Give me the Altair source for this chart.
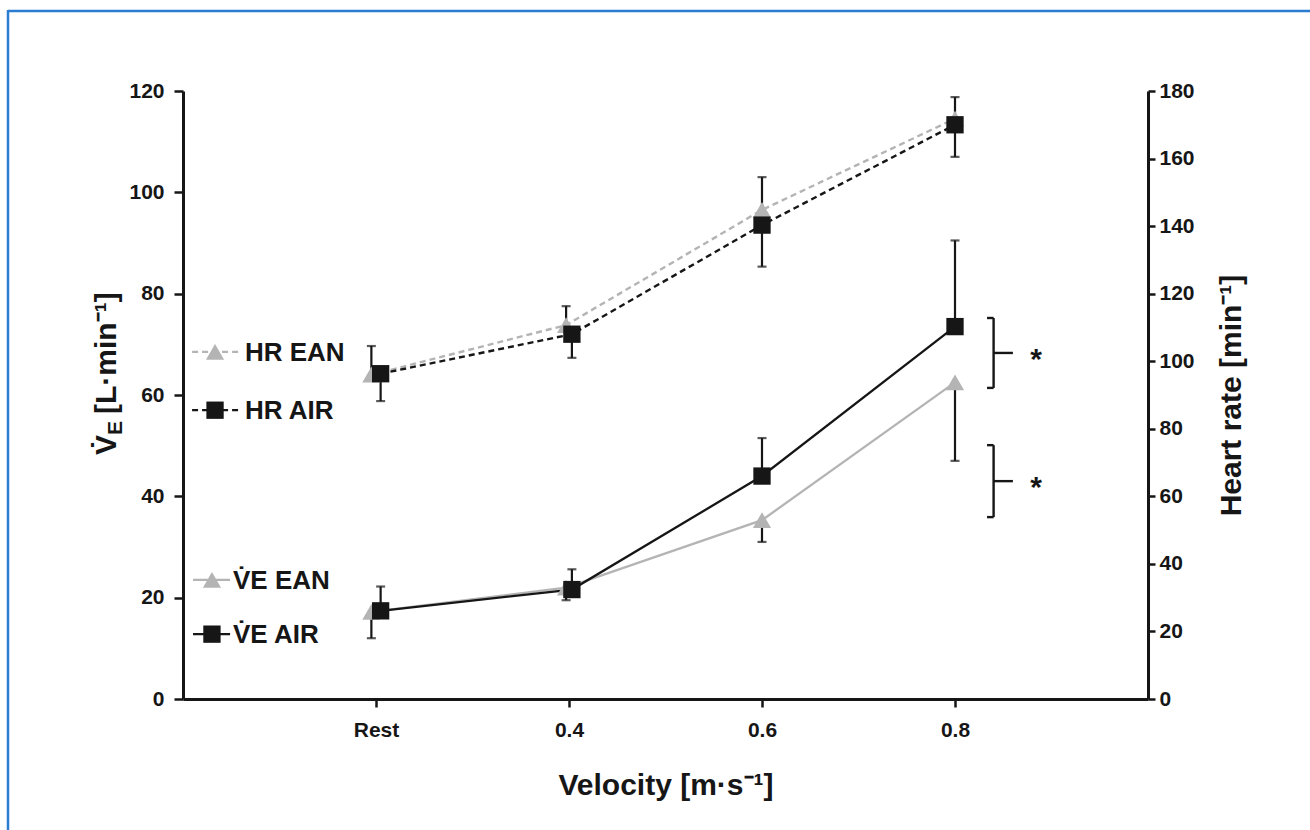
import altair as alt
import pandas as pd

# ---- data -------------------------------------------------------------
velocity = ["Rest", "0.4", "0.6", "0.8"]

# heart rate [min^-1]
hr_ean = [96.0, 110.7, 144.8, 171.8]
hr_air = [96.3, 108.0, 140.3, 170.0]
hr_ean_hi = [104.5, 116.3, 154.5, 178.2]   # EAN SD drawn upward
hr_air_lo = [88.2, 101.0, 128.0, 160.5]    # AIR SD drawn downward

# minute ventilation [L min^-1]
ve_ean = [17.2, 22.0, 35.3, 62.5]
ve_air = [17.4, 21.6, 44.0, 73.5]
ve_air_hi = [22.2, 25.6, 51.5, 90.5]       # AIR SD drawn upward
ve_ean_lo = [12.0, 19.5, 31.0, 47.0]       # EAN SD drawn downward

# significance brackets (ventilation units)
sig_lo = [61.4, 35.9]
sig_hi = [75.2, 50.1]
sig_mark = ["*", "*"]

legend_labels = ["HR EAN", "HR AIR", "V̇E EAN", "V̇E AIR"]

# ---- layout / style ---------------------------------------------------
GREY = "#b4b4b4"
BLACK = "#161616"
FONT = "Liberation Sans"
DODGE = [0.024, 0.015, 0.0, 0.0]      # small horizontal split of the two series
LEG_Y = [68.5, 57.0, 23.5, 12.8]      # legend rows, in ventilation units
LEG_LINE = [(0.047, 0.295), (0.047, 0.295), (0.052, 0.244), (0.052, 0.244)]
LEG_MARK = [0.166, 0.166, 0.150, 0.150]
LEG_TEXT = [0.321, 0.321, 0.259, 0.259]
BR_X, BR_HOOK, BR_STUB, BR_STAR = 4.20, 4.166, 4.30, 4.42

pos = [i + 1 for i in range(len(velocity))]
df = pd.DataFrame({
    "velocity": velocity,
    "x_ean": [p - d for p, d in zip(pos, DODGE)],
    "x_air": [p + d for p, d in zip(pos, DODGE)],
    "hr_ean": hr_ean, "hr_air": hr_air,
    "hr_ean_hi": hr_ean_hi, "hr_air_lo": hr_air_lo,
    "ve_ean": ve_ean, "ve_air": ve_air,
    "ve_air_hi": ve_air_hi, "ve_ean_lo": ve_ean_lo,
})

leg = pd.DataFrame({
    "label": legend_labels,
    "y": LEG_Y,
    "x0": [a for a, b in LEG_LINE], "x1": [b for a, b in LEG_LINE],
    "xm": LEG_MARK, "xt": LEG_TEXT,
    "kind": ["hr_ean", "hr_air", "ve_ean", "ve_air"],
})

br = pd.DataFrame({"lo": sig_lo, "hi": sig_hi, "mark": sig_mark})
br["mid"] = (br["lo"] + br["hi"]) / 2
br["bx"], br["hx"], br["sx"], br["tx"] = BR_X, BR_HOOK, BR_STUB, BR_STAR

one = pd.DataFrame({"k": [0]})

# ---- scales and axes --------------------------------------------------
axis_style = dict(
    grid=False, domainColor=BLACK, domainWidth=3, tickColor=BLACK,
    tickWidth=2.5, labelFont=FONT, labelFontSize=21,
    labelFontWeight="bold", labelColor=BLACK, titleFont=FONT,
    titleFontWeight="bold", titleColor=BLACK,
)

x_scale = alt.Scale(domain=[0, 5], nice=False, zero=False)
label_expr = "[" + ",".join("'%s'" % v for v in velocity) + "][datum.value - 1]"
x_axis = alt.Axis(values=pos, labelExpr=label_expr, title="Velocity [m·s⁻¹]",
                  titleFontSize=30, titlePadding=30, labelPadding=12,
                  tickSize=8, **axis_style)

left_scale = alt.Scale(domain=[0, 120], nice=False)
left_axis = alt.Axis(values=list(range(0, 121, 20)), orient="left", title=None,
                     tickSize=9, labelPadding=10, **axis_style)
right_scale = alt.Scale(domain=[0, 180], nice=False)
right_axis = alt.Axis(values=list(range(0, 181, 20)), orient="right",
                      title="Heart rate [min⁻¹]", titleFontSize=30, titleAngle=270,
                      titlePadding=52, tickSize=7, labelPadding=4, **axis_style)


def X(field):
    return alt.X(field, type="quantitative", scale=x_scale, axis=x_axis)


def YL(field):
    return alt.Y(field, type="quantitative", scale=left_scale, axis=left_axis)


def YR(field):
    return alt.Y(field, type="quantitative", scale=right_scale, axis=right_axis)


base = alt.Chart(df)

# ---- ventilation (left axis) -----------------------------------------
ve_line_ean = base.mark_line(color=GREY, strokeWidth=2.3).encode(x=X("x_ean"), y=YL("ve_ean"))
ve_line_air = base.mark_line(color=BLACK, strokeWidth=2.3).encode(x=X("x_air"), y=YL("ve_air"))
ve_err_air = base.mark_rule(color=BLACK, strokeWidth=2.2).encode(
    x=X("x_air"), y=YL("ve_air"), y2="ve_air_hi")
ve_cap_air = base.mark_tick(color=BLACK, orient="horizontal", size=9, thickness=2.2).encode(
    x=X("x_air"), y=YL("ve_air_hi"))
ve_err_ean = base.mark_rule(color=BLACK, strokeWidth=2.2).encode(
    x=X("x_ean"), y=YL("ve_ean"), y2="ve_ean_lo")
ve_cap_ean = base.mark_tick(color=BLACK, orient="horizontal", size=9, thickness=2.2).encode(
    x=X("x_ean"), y=YL("ve_ean_lo"))
ve_pt_ean = base.mark_point(shape="triangle-up", filled=True, color=GREY, size=330, opacity=1).encode(
    x=X("x_ean"), y=YL("ve_ean"))
ve_pt_air = base.mark_point(shape="square", filled=True, color=BLACK, size=300, opacity=1).encode(
    x=X("x_air"), y=YL("ve_air"))

# legend drawn inside the plot
legb = alt.Chart(leg)
leg_color = alt.Color("kind:N", scale=alt.Scale(
    domain=["hr_ean", "hr_air", "ve_ean", "ve_air"], range=[GREY, BLACK, GREY, BLACK]), legend=None)
leg_hr_lines = legb.transform_filter("indexof(datum.kind, 'hr') == 0").mark_rule(
    strokeWidth=2.3, strokeDash=[6, 4]).encode(x=X("x0"), x2="x1", y=YL("y"), color=leg_color)
leg_ve_lines = legb.transform_filter("indexof(datum.kind, 've') == 0").mark_rule(
    strokeWidth=2.3).encode(x=X("x0"), x2="x1", y=YL("y"), color=leg_color)
leg_tri = legb.transform_filter("indexof(datum.kind, 'ean') > 0").mark_point(
    shape="triangle-up", filled=True, size=330, opacity=1).encode(
    x=X("xm"), y=YL("y"), color=leg_color)
leg_sq = legb.transform_filter("indexof(datum.kind, 'air') > 0").mark_point(
    shape="square", filled=True, size=300, opacity=1).encode(
    x=X("xm"), y=YL("y"), color=leg_color)
leg_txt = legb.mark_text(align="left", baseline="middle", font=FONT, fontSize=26,
                         fontWeight="bold", color=BLACK, dy=1).encode(
    x=X("xt"), y=YL("y"), text="label:N")

# significance brackets
brb = alt.Chart(br)
br_vert = brb.mark_rule(color=BLACK, strokeWidth=2.4).encode(x=X("bx"), y=YL("lo"), y2="hi")
br_top = brb.mark_rule(color=BLACK, strokeWidth=2.4).encode(x=X("hx"), x2="bx", y=YL("hi"))
br_bot = brb.mark_rule(color=BLACK, strokeWidth=2.4).encode(x=X("hx"), x2="bx", y=YL("lo"))
br_stub = brb.mark_rule(color=BLACK, strokeWidth=2.4).encode(x=X("bx"), x2="sx", y=YL("mid"))
br_star = brb.mark_text(font=FONT, fontSize=30, fontWeight="bold", color=BLACK,
                        baseline="middle", dy=7).encode(x=X("tx"), y=YL("mid"), text="mark:N")

# left axis title with subscript
tb = alt.Chart(one)
title_v = tb.mark_text(text="V̇", angle=270, align="left", baseline="alphabetic", font=FONT,
                       fontSize=30, fontWeight="bold", color=BLACK).encode(
    x=alt.value(-67), y=alt.value(364))
title_e = tb.mark_text(text="E", angle=270, align="left", baseline="alphabetic", font=FONT,
                       fontSize=21, fontWeight="bold", color=BLACK).encode(
    x=alt.value(-61), y=alt.value(344))
title_u = tb.mark_text(text="[L·min⁻¹]", angle=270, align="left", baseline="alphabetic", font=FONT,
                       fontSize=30, fontWeight="bold", color=BLACK).encode(
    x=alt.value(-67), y=alt.value(323))

# outer frame of the figure panel (top and left edges)
frame_top = tb.mark_rule(color="#2a7dd1", strokeWidth=2.5, strokeCap="butt").encode(
    x=alt.value(-175), x2=alt.value(1127), y=alt.value(-80))
frame_left = tb.mark_rule(color="#2a7dd1", strokeWidth=2.5, strokeCap="butt").encode(
    x=alt.value(-175), y=alt.value(-81), y2=alt.value(739))

left = alt.layer(
    ve_line_ean, ve_line_air, ve_err_air, ve_cap_air, ve_err_ean, ve_cap_ean,
    ve_pt_ean, ve_pt_air,
    leg_hr_lines, leg_ve_lines, leg_tri, leg_sq, leg_txt,
    br_vert, br_top, br_bot, br_stub, br_star,
    title_v, title_e, title_u, frame_top, frame_left,
)

# ---- heart rate (right axis) -----------------------------------------
hr_line_ean = base.mark_line(color=GREY, strokeWidth=2.4, strokeDash=[6, 4]).encode(
    x=X("x_ean"), y=YR("hr_ean"))
hr_line_air = base.mark_line(color=BLACK, strokeWidth=2.4, strokeDash=[6, 4]).encode(
    x=X("x_air"), y=YR("hr_air"))
hr_err_ean = base.mark_rule(color=BLACK, strokeWidth=2.2).encode(
    x=X("x_ean"), y=YR("hr_ean"), y2="hr_ean_hi")
hr_cap_ean = base.mark_tick(color=BLACK, orient="horizontal", size=9, thickness=2.2).encode(
    x=X("x_ean"), y=YR("hr_ean_hi"))
hr_err_air = base.mark_rule(color=BLACK, strokeWidth=2.2).encode(
    x=X("x_air"), y=YR("hr_air"), y2="hr_air_lo")
hr_cap_air = base.mark_tick(color=BLACK, orient="horizontal", size=9, thickness=2.2).encode(
    x=X("x_air"), y=YR("hr_air_lo"))
hr_pt_ean = base.mark_point(shape="triangle-up", filled=True, color=GREY, size=330, opacity=1).encode(
    x=X("x_ean"), y=YR("hr_ean"))
hr_pt_air = base.mark_point(shape="square", filled=True, color=BLACK, size=300, opacity=1).encode(
    x=X("x_air"), y=YR("hr_air"))

right = alt.layer(
    hr_line_ean, hr_line_air, hr_err_ean, hr_cap_ean, hr_err_air, hr_cap_air,
    hr_pt_ean, hr_pt_air,
)

chart = alt.layer(left, right).resolve_scale(y="independent").properties(
    width=965, height=608,
    autosize=alt.AutoSizeParams(type="none"),
    padding={"left": 183, "top": 91, "right": 162, "bottom": 131},
    background="white",
).configure_view(stroke=None)

chart.save("out.html", embed_options={"renderer": "svg", "actions": False})
